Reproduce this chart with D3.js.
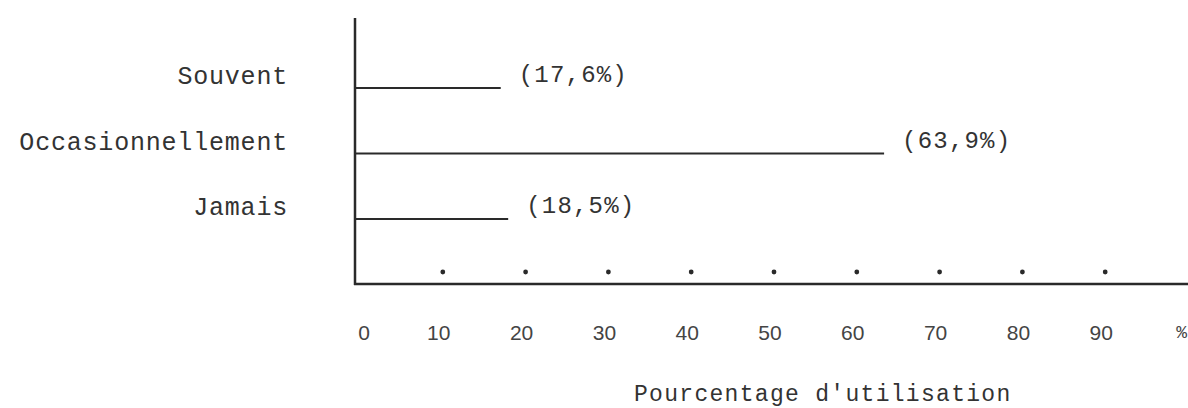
<!DOCTYPE html>
<html>
<head>
<meta charset="utf-8">
<script src="https://cdn.jsdelivr.net/npm/d3@7"></script>
<style>
html,body{margin:0;padding:0;background:#fff;}
svg{display:block;}
</style>
</head>
<body>
<svg id="chart" width="1188" height="408"></svg>
<script>
const categories = ["Souvent", "Occasionnellement", "Jamais"];
const values = [17.6, 63.9, 18.5];
const valueLabels = ["(17,6%)", "(63,9%)", "(18,5%)"];
const tickValues = [0, 10, 20, 30, 40, 50, 60, 70, 80, 90];
const tickLabels = ["0", "10", "20", "30", "40", "50", "60", "70", "80", "90"];
const dotValues = [10, 20, 30, 40, 50, 60, 70, 80, 90];
const unitLabel = "%";
const axisTitle = "Pourcentage d'utilisation";

const svg = d3.select("#chart");
const ink = "#2a2a2a";
const mono = "'Liberation Mono', 'DejaVu Sans Mono', monospace";

const x = d3.scaleLinear().domain([0, 100]).range([355, 1183]);
const y = d3.scalePoint().domain(categories).range([88, 219]);
const axisTop = 18, axisY = 284;

// vertical axis
svg.append("line")
  .attr("x1", x(0)).attr("x2", x(0))
  .attr("y1", axisTop).attr("y2", axisY + 1)
  .attr("stroke", ink).attr("stroke-width", 2.5);
// horizontal axis
svg.append("line")
  .attr("x1", x(0) - 1).attr("x2", 1188)
  .attr("y1", axisY).attr("y2", axisY)
  .attr("stroke", ink).attr("stroke-width", 2.5);

// bars (lines)
svg.selectAll("line.bar").data(categories).join("line")
  .attr("class", "bar")
  .attr("x1", x(0)).attr("x2", (d, i) => x(values[i]))
  .attr("y1", d => y(d)).attr("y2", d => y(d))
  .attr("stroke", ink).attr("stroke-width", 2);

// category labels
svg.selectAll("text.cat").data(categories).join("text")
  .attr("class", "cat")
  .attr("x", 288).attr("y", d => y(d) - 4)
  .attr("text-anchor", "end")
  .attr("font-family", mono).attr("font-size", 25)
  .attr("letter-spacing", 0.8)
  .attr("fill", "#333")
  .text(d => d);

// value labels
svg.selectAll("text.val").data(categories).join("text")
  .attr("class", "val")
  .attr("x", (d, i) => x(values[i]) + 18).attr("y", d => y(d) - 6)
  .attr("font-family", mono).attr("font-size", 24)
  .attr("letter-spacing", 1.2)
  .attr("fill", "#333")
  .text((d, i) => valueLabels[i]);

// dots
svg.selectAll("circle.dot").data(dotValues).join("circle")
  .attr("class", "dot")
  .attr("cx", d => x(d) + 5).attr("cy", 272)
  .attr("r", 2.4).attr("fill", ink);

// tick labels
svg.selectAll("text.tick").data(tickValues).join("text")
  .attr("class", "tick")
  .attr("x", d => x(d) + (d === 0 ? 9 : 1)).attr("y", 340)
  .attr("text-anchor", "middle")
  .attr("font-family", "'Liberation Sans Narrow', 'Liberation Sans', sans-serif")
  .attr("font-size", 21)
  .attr("fill", "#444")
  .text((d, i) => tickLabels[i]);

svg.append("text")
  .attr("x", 1187).attr("y", 338)
  .attr("text-anchor", "end")
  .attr("font-family", mono).attr("font-size", 18)
  .attr("fill", "#444")
  .text(unitLabel);

// axis title
svg.append("text")
  .attr("x", 634).attr("y", 401)
  .attr("font-family", mono).attr("font-size", 23)
  .attr("letter-spacing", 1.3)
  .attr("fill", "#333")
  .text(axisTitle);
</script>
</body>
</html>
